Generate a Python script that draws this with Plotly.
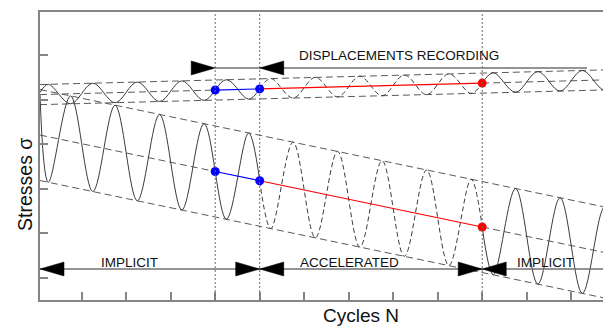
import plotly.graph_objects as go

# ---- data (x in cycles, y in stress units) ----
seg_x_a = [0.063, 0.25, 0.75, 1.25, 1.75, 2.25, 2.75, 3.25, 3.75, 4.25, 4.75, 5.0]
seg_x_b = [5.0, 5.25, 5.75, 6.25, 6.75, 7.25, 7.75, 8.25, 8.75, 9.25, 9.75, 10.0]
seg_x_c = [10.0, 10.25, 10.75, 11.25, 11.75, 12.25, 12.75, 13.25]

big_y_a = [5.10, 3.146, 5.082, 2.939, 4.875, 2.731, 4.667, 2.524, 4.460, 2.316, 4.252, 3.181]
big_y_b = [3.181, 2.109, 4.045, 1.901, 3.837, 1.694, 3.630, 1.486, 3.422, 1.279, 3.215, 2.143]
big_y_c = [2.143, 1.071, 3.007, 0.864, 2.800, 0.656, 2.592, 0.449]

small_y_a = [5.16, 5.342, 4.905, 5.368, 4.931, 5.394, 4.957, 5.420, 4.983, 5.446, 5.009, 5.240]
small_y_b = [5.240, 5.472, 5.035, 5.498, 5.061, 5.524, 5.087, 5.550, 5.113, 5.576, 5.139, 5.370]
small_y_c = [5.370, 5.602, 5.165, 5.628, 5.191, 5.654, 5.217, 5.680]

env_x = [0.063, 12.894]
top_upper = [5.337, 5.670]
top_lower = [4.887, 5.220]
big_upper = [5.225, 2.562]
big_lower = [3.185, 0.522]

# centre lines: pieces (x, y)
top_center_x = [0.063, 4.0, 5.0, 10.0, 12.894]
top_center_y = [5.112, 5.214, 5.240, 5.370, 5.445]
big_center_x = [0.063, 4.0, 5.0, 10.0, 12.894]
big_center_y = [4.205, 3.388, 3.181, 2.143, 1.542]

phase_x = [4.0, 5.0, 10.0]          # vertical dotted lines
x_ticks = list(range(1, 13))
y_ticks = list(range(1, 7))

disp_arrow_y = 5.709
disp_arrow_x = [4.0, 12.355]
phase_arrow_y = 1.202

labels = ["DISPLACEMENTS RECORDING", "IMPLICIT", "ACCELERATED", "IMPLICIT"]
label_x = [8.119, 2.085, 7.007, 11.42]
label_y = [5.989, 1.359, 1.359, 1.359]

X_RANGE = [0.063, 12.894]
Y_RANGE = [0.507, 6.964]

FONT = "Liberation Sans, Arial, sans-serif"
WAVE = "#3c3c3c"
ENV = "#5a5a5a"
AX = "#858585"

fig = go.Figure()

def line(x, y, color, width=1, dash=None, shape="linear"):
    fig.add_trace(go.Scatter(x=x, y=y, mode="lines", hoverinfo="skip",
                             line=dict(color=color, width=width, dash=dash, shape=shape,
                                       smoothing=1.0 if shape == "spline" else None)))

# envelopes
for ys in (top_upper, top_lower, big_upper, big_lower):
    line(env_x, ys, ENV, 1, "7px,4px")
# dashed centre parts
for cx, cy in ((top_center_x, top_center_y), (big_center_x, big_center_y)):
    line(cx[0:2], cy[0:2], ENV, 1, "7px,4px")
    line(cx[3:5], cy[3:5], ENV, 1, "7px,4px")

# waves
line(seg_x_a, big_y_a, WAVE, 1, None, "spline")
line(seg_x_b, big_y_b, WAVE, 1, "5px,3px", "spline")
line(seg_x_c, big_y_c, WAVE, 1, None, "spline")
line(seg_x_a, small_y_a, WAVE, 1, None, "spline")
line(seg_x_b, small_y_b, WAVE, 1, "5px,3px", "spline")
line(seg_x_c, small_y_c, WAVE, 1, None, "spline")

# blue / red recorded segments
for cx, cy in ((top_center_x, top_center_y), (big_center_x, big_center_y)):
    line(cx[1:3], cy[1:3], "#0000ff", 1.2)
    line(cx[2:4], cy[2:4], "#ff0000", 1.2)
    fig.add_trace(go.Scatter(x=cx[1:3], y=cy[1:3], mode="markers", hoverinfo="skip",
                             marker=dict(color="#0000ff", size=9)))
    fig.add_trace(go.Scatter(x=[cx[3]], y=[cy[3]], mode="markers", hoverinfo="skip",
                             marker=dict(color="#ff0000", size=9)))

shapes = []
for px in phase_x:
    shapes.append(dict(type="line", xref="x", yref="paper", x0=px, x1=px, y0=0, y1=1,
                       line=dict(color="#6a6a6a", width=1, dash="2px,2px"), layer="above"))

# arrow lines
shapes.append(dict(type="line", xref="x", yref="y", x0=disp_arrow_x[0], x1=disp_arrow_x[1],
                   y0=disp_arrow_y, y1=disp_arrow_y, line=dict(color="#707070", width=1.5)))
shapes.append(dict(type="line", xref="x", yref="y", x0=X_RANGE[0], x1=X_RANGE[1],
                   y0=phase_arrow_y, y1=phase_arrow_y, line=dict(color="#707070", width=1.5)))

TL = 0.54   # arrowhead length (x units)
TH = 0.157  # arrowhead half height (y units)

def tri(tip_x, y, direction):
    base = tip_x - TL if direction > 0 else tip_x + TL
    return dict(type="path", xref="x", yref="y",
                path=f"M {tip_x} {y} L {base} {y + TH} L {base} {y - TH} Z",
                fillcolor="black", line=dict(color="black", width=0.5), layer="above")

shapes.append(tri(4.0, disp_arrow_y, +1))
shapes.append(tri(5.0, disp_arrow_y, -1))
shapes.append(tri(X_RANGE[0], phase_arrow_y, -1))
shapes.append(tri(5.0, phase_arrow_y, +1))
shapes.append(tri(5.0, phase_arrow_y, -1))
shapes.append(tri(10.0, phase_arrow_y, +1))
shapes.append(tri(10.0, phase_arrow_y, -1))

annotations = []
for t, x, y in zip(labels, label_x, label_y):
    annotations.append(dict(text=t, x=x, y=y, xref="x", yref="y", showarrow=False,
                            xanchor="center", yanchor="middle",
                            font=dict(family=FONT, size=13.5, color="#111111")))
annotations.append(dict(text="Stresses σ", x=-0.0263, y=0.403, xref="paper", yref="paper",
                        showarrow=False, textangle=-90, xanchor="center", yanchor="middle",
                        font=dict(family=FONT, size=19.5, color="#111111")))
annotations.append(dict(text="Cycles N", x=0.563, y=-0.0538, xref="paper", yref="paper",
                        showarrow=False, xanchor="center", yanchor="middle",
                        font=dict(family=FONT, size=19, color="#111111")))

# page body has an 8px default margin: figure is shrunk/offset to keep the plot area in place
fig.update_layout(
    width=603, height=319,
    margin=dict(l=32, r=0, t=4, b=27),
    paper_bgcolor="white", plot_bgcolor="white",
    showlegend=False, shapes=shapes, annotations=annotations,
    xaxis=dict(range=X_RANGE, tickvals=x_ticks, ticks="inside", ticklen=8,
               tickcolor=AX, tickwidth=1.5, showticklabels=False, showgrid=False,
               zeroline=False, showline=True, linecolor=AX, linewidth=1.5, mirror=True),
    yaxis=dict(range=Y_RANGE, tickvals=y_ticks, ticks="inside", ticklen=8,
               tickcolor=AX, tickwidth=1.5, showticklabels=False, showgrid=False,
               zeroline=False, showline=True, linecolor=AX, linewidth=1.5),
)

fig.write_html("out.html")
